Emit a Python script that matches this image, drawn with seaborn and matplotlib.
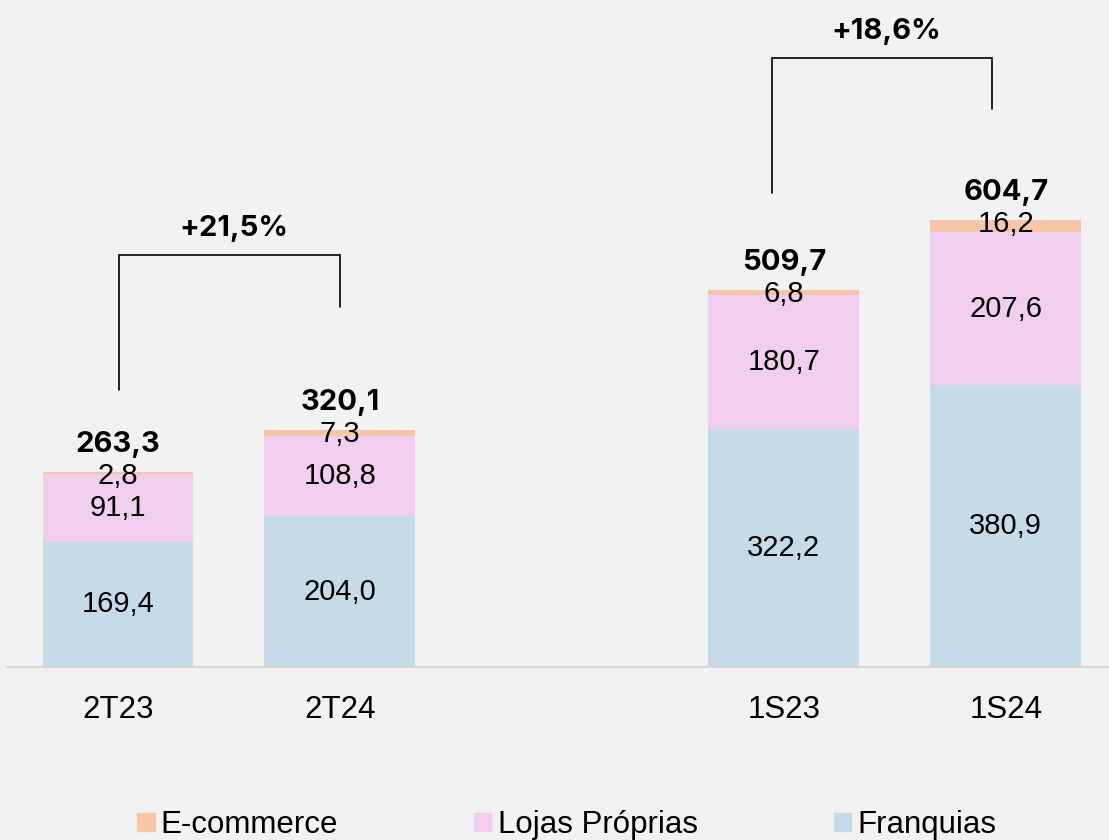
import pandas as pd
import seaborn as sns
import matplotlib.pyplot as plt
from matplotlib.patches import Patch

periods = ['2T23', '2T24', '1S23', '1S24']
franquias = [169.4, 204.0, 322.2, 380.9]
lojas = [91.1, 108.8, 180.7, 207.6]
ecommerce = [2.8, 7.3, 6.8, 16.2]
totals = [263.3, 320.1, 509.7, 604.7]
growth = ['+21,5%', '+18,6%']

# bracket heights (left foot, top, right foot) per comparison
bracket_y = [(375, 557, 487), (641, 824, 754)]

order = ['2T23', '2T24', '', '1S23', '1S24']
c_fr, c_lj, c_ec = '#C5DCE8', '#F2CEEE', '#F7C6A9'
bg = '#F2F2F2'

df = pd.DataFrame({'Periodo': periods, 'Franquias': franquias,
                   'Lojas': lojas, 'Ecommerce': ecommerce, 'Total': totals})
df['fr_lj'] = df['Franquias'] + df['Lojas']
df['stack'] = df['fr_lj'] + df['Ecommerce']

sns.set_style('white')
plt.rcParams['font.family'] = ['Liberation Sans', 'DejaVu Sans']
plt.rcParams['text.color'] = 'black'

fig = plt.figure(figsize=(11.09, 8.4), dpi=100, facecolor=bg)
ax = fig.add_axes([7 / 1109, 173 / 840, 1102 / 1109, 667 / 840])
ax.set_facecolor(bg)

bar_kw = dict(order=order, width=0.68, ax=ax, saturation=1, linewidth=0, edgecolor='none')
sns.barplot(data=df, x='Periodo', y='stack', color=c_ec, **bar_kw)
sns.barplot(data=df, x='Periodo', y='fr_lj', color=c_lj, **bar_kw)
sns.barplot(data=df, x='Periodo', y='Franquias', color=c_fr, **bar_kw)

xpos = [order.index(p) for p in periods]
fmt = lambda v: f'{v:.1f}'.replace('.', ',')
for i, x in enumerate(xpos):
    ax.text(x, franquias[i] / 2, fmt(franquias[i]), ha='center', va='center', fontsize=21)
    ax.text(x, franquias[i] + lojas[i] / 2, fmt(lojas[i]), ha='center', va='center', fontsize=21)
    ax.text(x, df['stack'][i] - 5, fmt(ecommerce[i]), ha='center', va='center', fontsize=21)
    ax.text(x, df['stack'][i] + 37, fmt(totals[i]), ha='center', va='center', fontsize=21,
            fontweight='bold', family=['Inter', 'DejaVu Sans'])

# growth brackets
for k, (a, b) in enumerate([(0, 1), (2, 3)]):
    shift = -0.06 * k
    xa, xb = xpos[a] + 0.005 + shift, xpos[b] + shift
    y1, ytop, y2 = bracket_y[k]
    ax.plot([xa, xa, xb, xb], [y1, ytop, ytop, y2], color='black', lw=1.2, solid_joinstyle='miter')
    ax.text((xa + xb) / 2 + 0.02, ytop + 36, growth[k], ha='center', va='center', fontsize=21,
            fontweight='bold', family=['Inter', 'DejaVu Sans'])

ax.set_xlim(-0.5, 4.465)
ax.set_ylim(0, 902)
ax.set_xlabel('')
ax.set_ylabel('')
ax.set_yticks([])
ax.tick_params(axis='x', length=0, pad=20, labelsize=22.5, labelcolor='black')
for s in ['top', 'left', 'right']:
    ax.spines[s].set_visible(False)
ax.spines['bottom'].set_color('#D9D9D9')
ax.spines['bottom'].set_linewidth(1.5)

handles = [Patch(color=c_ec, label='E-commerce'), Patch(color=c_lj, label='Lojas Próprias'),
           Patch(color=c_fr, label='Franquias')]
fig.legend(handles=handles, loc='center', bbox_to_anchor=(0.511, 1 - 825 / 840), ncol=3,
           frameon=False, handlelength=0.55, handleheight=0.55, handletextpad=0.2,
           columnspacing=4.35, prop={'family': 'Liberation Sans', 'size': 22.5})

fig.savefig('out.png', dpi=100, facecolor=bg)
